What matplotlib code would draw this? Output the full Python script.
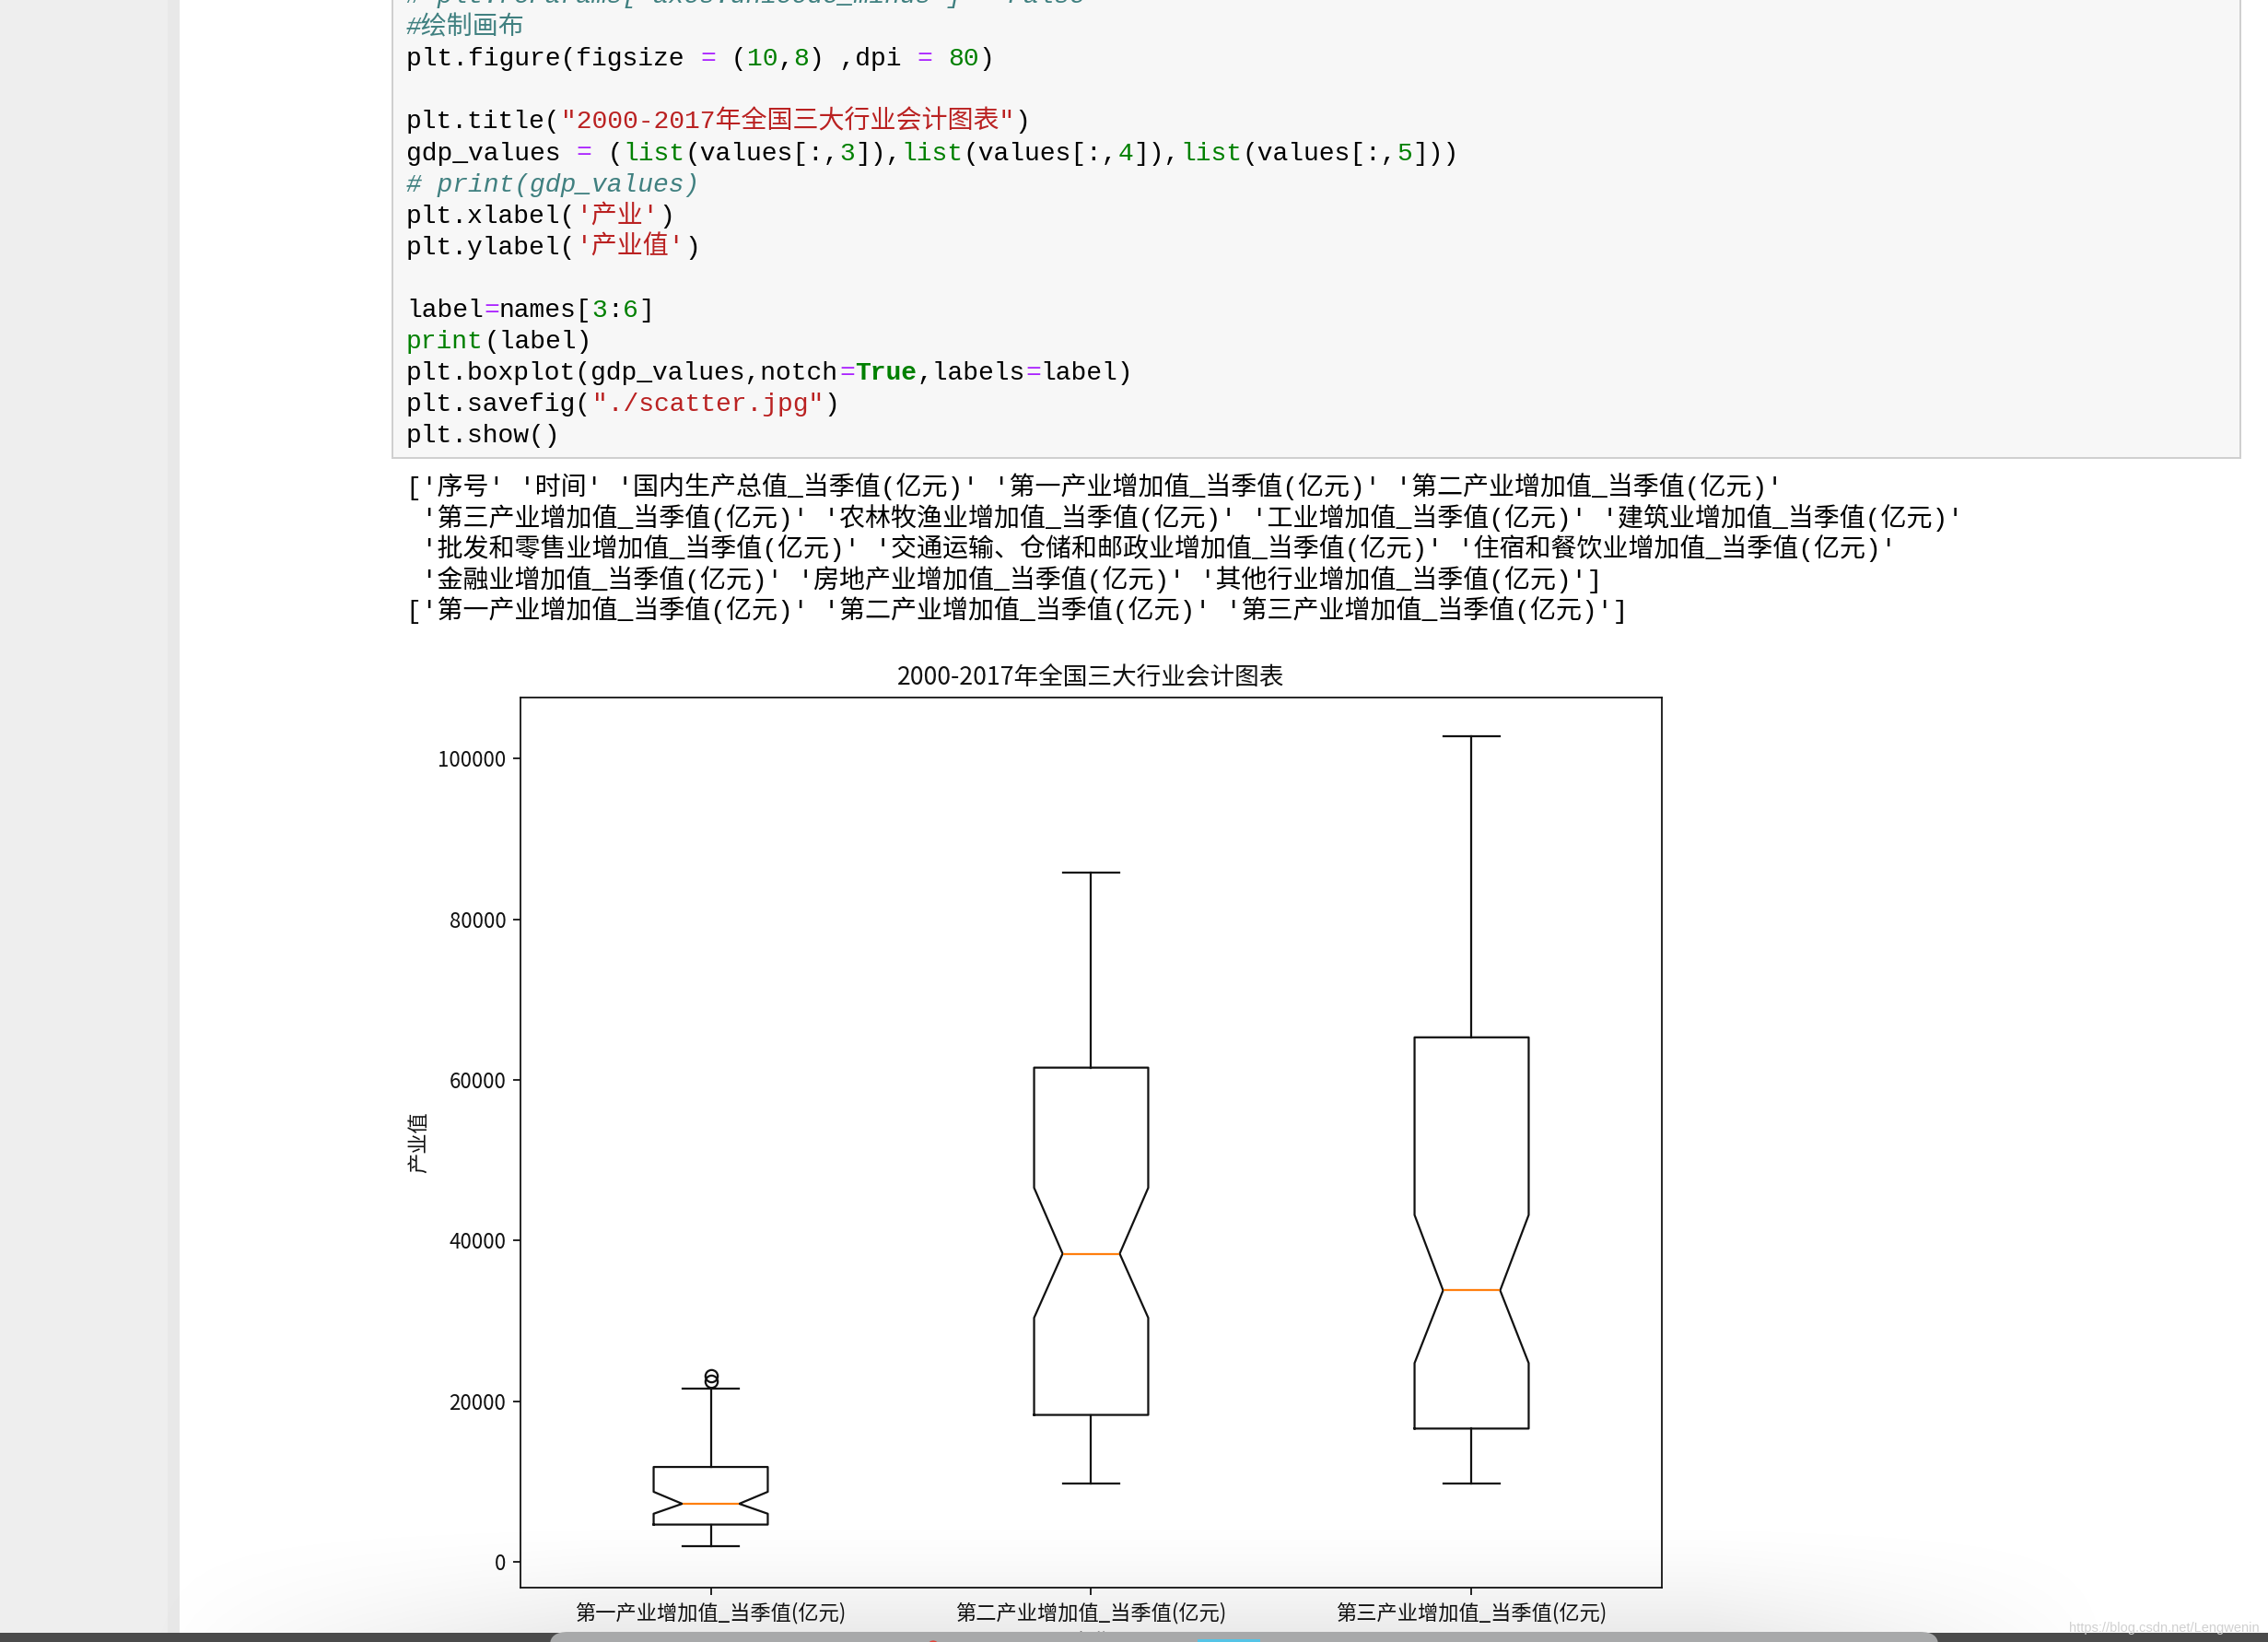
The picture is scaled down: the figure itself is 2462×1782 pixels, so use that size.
import matplotlib

matplotlib.use("Agg")

import matplotlib.pyplot as plt
import numpy as np
from matplotlib.patches import Circle, FancyBboxPatch, Rectangle

W, H = 2462, 1782
DPI = 100

# boxplot stats (亿元), one entry per industry
categories = ["第一产业增加值_当季值(亿元)", "第二产业增加值_当季值(亿元)", "第三产业增加值_当季值(亿元)"]
q1 = [4650, 18300, 16600]
medians = [7240, 38370, 33800]
q3 = [11820, 61530, 65300]
whisker_lo = [1920, 9740, 9740]
whisker_hi = [21620, 85830, 102790]
notch_lo = [6000, 30390, 24750]
notch_hi = [8730, 46570, 43190]
outliers = [[22500, 23200], [], []]
y_ticks = [0, 20000, 40000, 60000, 80000, 100000]
y_tick_labels = ["0", "20000", "40000", "60000", "80000", "100000"]
y_limits = (-3200, 107600)

title = "2000-2017年全国三大行业会计图表"
x_label = "产业"
y_label = "产业值"
watermark = "https://blog.csdn.net/Lengwenin"

# notebook cell text: (text, style) segments per line
code_lines = [
    [("# plt.rcParams['axes.unicode_minus'] = False", "c")],
    [("#绘制画布", "c")],
    [("plt.figure(figsize ", "n"), ("=", "o"), (" (", "n"), ("10", "m"), (",", "n"), ("8", "m"),
     (") ,dpi ", "n"), ("=", "o"), (" ", "n"), ("80", "m"), (")", "n")],
    [],
    [("plt.title(", "n"), ('"2000-2017年全国三大行业会计图表"', "s"), (")", "n")],
    [("gdp_values ", "n"), ("=", "o"), (" (", "n"), ("list", "k"), ("(values[:,", "n"), ("3", "m"),
     ("]),", "n"), ("list", "k"), ("(values[:,", "n"), ("4", "m"), ("]),", "n"), ("list", "k"),
     ("(values[:,", "n"), ("5", "m"), ("]))", "n")],
    [("# print(gdp_values)", "c")],
    [("plt.xlabel(", "n"), ("'产业'", "s"), (")", "n")],
    [("plt.ylabel(", "n"), ("'产业值'", "s"), (")", "n")],
    [],
    [("label", "n"), ("=", "o"), ("names[", "n"), ("3", "m"), (":", "n"), ("6", "m"), ("]", "n")],
    [("print", "k"), ("(label)", "n")],
    [("plt.boxplot(gdp_values,notch", "n"), ("=", "o"), ("True", "kb"), (",labels", "n"), ("=", "o"),
     ("label)", "n")],
    [("plt.savefig(", "n"), ('"./scatter.jpg"', "s"), (")", "n")],
    [("plt.show()", "n")],
]

output_lines = [
    "['序号' '时间' '国内生产总值_当季值(亿元)' '第一产业增加值_当季值(亿元)' '第二产业增加值_当季值(亿元)'",
    " '第三产业增加值_当季值(亿元)' '农林牧渔业增加值_当季值(亿元)' '工业增加值_当季值(亿元)' '建筑业增加值_当季值(亿元)'",
    " '批发和零售业增加值_当季值(亿元)' '交通运输、仓储和邮政业增加值_当季值(亿元)' '住宿和餐饮业增加值_当季值(亿元)'",
    " '金融业增加值_当季值(亿元)' '房地产业增加值_当季值(亿元)' '其他行业增加值_当季值(亿元)']",
    "['第一产业增加值_当季值(亿元)' '第二产业增加值_当季值(亿元)' '第三产业增加值_当季值(亿元)']",
]

STYLES = {
    "n": dict(color="#000000"),
    "k": dict(color="#008000"),
    "kb": dict(color="#008000", weight="bold"),
    "s": dict(color="#BA2121"),
    "m": dict(color="#008000"),
    "o": dict(color="#AA22FF"),
    "c": dict(color="#408080", style="italic"),
}

MONO = ["Liberation Mono", "Noto Sans CJK SC"]
CJK = ["Noto Sans CJK SC", "DejaVu Sans"]
EM_PX = 28.0
CODE_PT = EM_PX * 72 / DPI


def fx(x):
    return x / W


def fy(y):
    return 1 - y / H


def text_width(s):
    return sum(EM_PX if ord(c) >= 0x2E80 else 0.6 * EM_PX for c in s)


def add_rect(fig, x0, y0, x1, y1, **kw):
    fig.add_artist(Rectangle((fx(x0), fy(y1)), (x1 - x0) / W, (y1 - y0) / H,
                             transform=fig.transFigure, **kw))


def draw_page(fig):
    add_rect(fig, 0, 0, 195, H, facecolor="#eeeeee", edgecolor="none", zorder=1)
    add_rect(fig, 182, 0, 195, H, facecolor="#e8e8e8", edgecolor="none", zorder=1)
    add_rect(fig, 426, -20, 2432, 497, facecolor="#f7f7f7", edgecolor="#cfcfcf",
             linewidth=1.44, zorder=1)

    for i, segments in enumerate(code_lines):
        x = 441
        base = 3 + 34.1 * i
        for text, style in segments:
            fig.text(fx(x), fy(base), text, fontsize=CODE_PT, family=MONO, va="baseline",
                     ha="left", zorder=3, **STYLES[style])
            x += text_width(text)

    for i, line in enumerate(output_lines):
        fig.text(fx(441), fy(537 + 33.6 * i), line, fontsize=CODE_PT, family=MONO,
                 va="baseline", ha="left", color="#000000", zorder=3)


def draw_chart(fig):
    ax = fig.add_axes([fx(565), fy(1723), (1804 - 565) / W, (1723 - 757) / H])
    stats = []
    for i, name in enumerate(categories):
        stats.append(dict(label=name, med=medians[i], q1=q1[i], q3=q3[i],
                          whislo=whisker_lo[i], whishi=whisker_hi[i],
                          cilo=notch_lo[i], cihi=notch_hi[i], fliers=outliers[i]))
    line = dict(color="#111111", linewidth=1.6)
    ax.bxp(stats, positions=[1, 2, 3], widths=0.3, shownotches=True,
           boxprops=line, whiskerprops=line, capprops=line,
           medianprops=dict(color="#ff7f0e", linewidth=1.6),
           flierprops=dict(marker="o", markerfacecolor="none", markeredgecolor="#111111",
                           markersize=9.6, markeredgewidth=1.6))
    ax.set_xlim(0.5, 3.5)
    ax.set_ylim(*y_limits)
    ax.set_yticks(y_ticks, y_tick_labels)
    ax.tick_params(length=5.6, width=1.28, pad=5.6, labelsize=16, colors="#111111")
    for label in ax.get_xticklabels() + ax.get_yticklabels():
        label.set_family(CJK)
    for spine in ax.spines.values():
        spine.set_linewidth(1.28)
        spine.set_color("#111111")
    ax.set_title(title, fontsize=19.2, pad=9.6, family=CJK, color="#111111")
    ax.set_xlabel(x_label, fontsize=16, labelpad=6.4, family=CJK, color="#111111")
    ax.set_ylabel(y_label, fontsize=16, labelpad=6.4, family=CJK, color="#111111")
    return ax


def draw_screen_bottom(fig):
    # soft shadow of the dock over the lower part of the page
    overlay = fig.add_axes([0, 0, 1, 1], zorder=5)
    overlay.set_axis_off()
    overlay.patch.set_alpha(0)
    xs = np.arange(0, W, 4)
    ys = np.arange(1600, 1772, 2)
    gx = np.clip((xs - 150) / 500, 0, 1) * np.clip((2300 - xs) / 450, 0, 1)
    gy = np.clip((ys - 1640) / 132, 0, 1) ** 1.6
    alpha = 0.085 * np.outer(gy, gx)
    rgba = np.zeros(alpha.shape + (4,))
    rgba[..., 3] = alpha
    overlay.imshow(rgba, extent=[0, W, 1772, 1600], aspect="auto", interpolation="bilinear")
    overlay.set_xlim(0, W)
    overlay.set_ylim(H, 0)

    add_rect(fig, 0, 1772, W, H + 5, facecolor="#4b4b4b", edgecolor="none", zorder=10)
    fig.add_artist(FancyBboxPatch((fx(597), fy(1810)), (2104 - 597) / W, (1810 - 1771) / H,
                                  boxstyle="round,pad=0,rounding_size=0.008",
                                  transform=fig.transFigure, facecolor="#a8a9aa",
                                  edgecolor="none", zorder=11))
    fig.add_artist(Circle((fx(1013), fy(1784)), 5 / W, transform=fig.transFigure,
                          facecolor="#e0443a", edgecolor="none", zorder=12))
    add_rect(fig, 1300, 1779, 1368, H + 5, facecolor="#55c4e6", edgecolor="none", zorder=12)

    fig.text(fx(2453), fy(1771), watermark, fontsize=10.5, family="Liberation Sans",
             color="#d0d0d0", ha="right", va="baseline", zorder=12)


def main() -> None:
    fig = plt.figure(figsize=(W / DPI, H / DPI), dpi=DPI, facecolor="white")
    draw_page(fig)
    draw_chart(fig)
    draw_screen_bottom(fig)
    fig.savefig("out.png", dpi=DPI, facecolor="white")
    plt.close(fig)


if __name__ == "__main__":
    main()
